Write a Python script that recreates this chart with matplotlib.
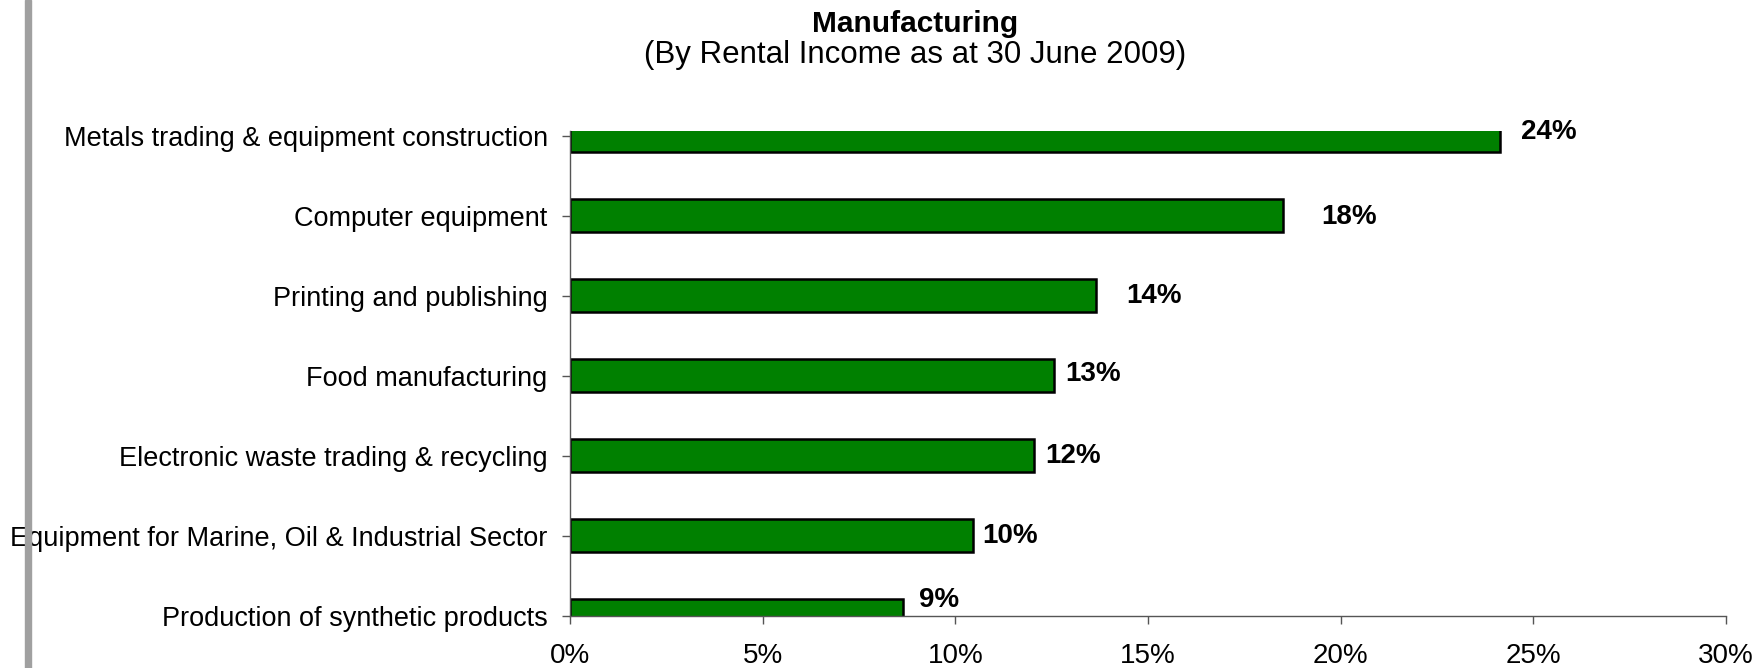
import numpy as np
import matplotlib
matplotlib.use("Agg")
import matplotlib.pyplot as plt
from matplotlib.patches import Rectangle

plt.rcParams['font.family'] = ['Liberation Sans', 'DejaVu Sans']

# data (bottom to top)
categories = [
    'Production of synthetic products',
    'Equipment for Marine, Oil & Industrial Sector',
    'Electronic waste trading & recycling',
    'Food manufacturing',
    'Printing and publishing',
    'Computer equipment',
    'Metals trading & equipment construction',
]
shares = [8.65, 10.45, 12.04, 12.56, 13.64, 18.5, 24.14]
share_labels = ['9%', '10%', '12%', '13%', '14%', '18%', '24%']
x_ticks = [0, 5, 10, 15, 20, 25, 30]

# label offsets in pixels from the bar end (excel put them a bit all over)
label_dx = [16, 10, 11, 11, 31, 38, 21]
label_dy = [16, 0, 0, 2, 0, -1, 4]

fig = plt.figure(figsize=(17.64, 6.68), dpi=100)
ax = fig.add_axes([0.3231, 0.0783, 0.9785 - 0.3231, 0.8039 - 0.0783])

y = np.arange(len(categories))
ax.barh(y, shares, height=0.41, color='#008000', edgecolor='black', linewidth=1.8)

for i in range(len(shares)):
    ax.annotate(share_labels[i], xy=(shares[i], y[i]),
                xytext=(label_dx[i], label_dy[i]), textcoords='offset pixels',
                ha='left', va='center', fontsize=20, fontweight='bold')

ax.set_xlim(0, 30)
ax.set_ylim(0, 6.06)
ax.set_xticks(x_ticks)
ax.set_xticklabels([f'{t}%' for t in x_ticks])
ax.set_yticks(y)
ax.set_yticklabels(categories)

for s in ['top', 'right']:
    ax.spines[s].set_visible(False)
for s in ['left', 'bottom']:
    ax.spines[s].set_color('#555555')
    ax.spines[s].set_linewidth(1.0)

ax.tick_params(axis='x', length=6, width=1, color='#555555', pad=14, labelsize=20)
ax.tick_params(axis='y', length=6, width=1, color='#555555', pad=10, labelsize=19.5)

fig.text(0.519, 0.952, 'Manufacturing', ha='center', va='baseline',
         fontsize=21.5, fontweight='bold')
fig.text(0.519, 0.905, '(By Rental Income as at 30 June 2009)', ha='center',
         va='baseline', fontsize=22.5)

# grey strip on the left edge of the slide
fig.add_artist(Rectangle((25 / 1764, 0), 6 / 1764, 1, transform=fig.transFigure,
                         color='#a0a0a0', zorder=5))

fig.savefig('out.png', dpi=100)
